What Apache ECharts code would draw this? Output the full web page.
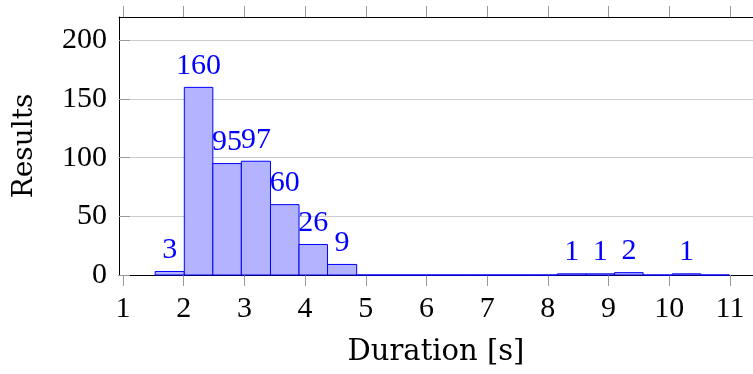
<!DOCTYPE html>
<html>
<head>
<meta charset="utf-8">
<script src="https://cdn.jsdelivr.net/npm/echarts@6/dist/echarts.min.js"></script>
<style>
  html, body { margin: 0; padding: 0; background: #fff; }
  #chart { width: 753px; height: 374px; }
</style>
</head>
<body>
<div id="chart"></div>
<script>
// histogram bins (edges in seconds, counts per bin)
var binEdges = [1.53, 2.01, 2.48, 2.95, 3.43, 3.90, 4.37, 4.85, 5.32, 5.79, 6.26,
                6.74, 7.21, 7.68, 8.16, 8.63, 9.10, 9.57, 10.05, 10.52, 10.99];
var counts = [3, 160, 95, 97, 60, 26, 9, 0, 0, 0, 0, 0, 0, 0, 1, 1, 2, 0, 1, 0];
var xTicks = [1, 2, 3, 4, 5, 6, 7, 8, 9, 10, 11];
var yTicks = [0, 50, 100, 150, 200];

var numFont = '"Liberation Serif", serif';
var nameFont = '"DejaVu Serif", serif';

var histData = [];
for (var i = 0; i < counts.length; i++) {
    histData.push([binEdges[i], binEdges[i + 1], counts[i]]);
}

var chart = echarts.init(document.getElementById('chart'));

var option = {
    animation: false,
    grid: { left: 119, right: 0, top: 17, bottom: 99 },
    xAxis: [{
        type: 'value',
        min: 0.934,
        max: 11.38,
        name: 'Duration [s]',
        nameLocation: 'middle',
        nameGap: 63,
        nameTextStyle: { fontFamily: nameFont, fontSize: 29, color: '#000' },
        axisLine: { onZero: false, lineStyle: { color: '#000', width: 1 } },
        axisTick: { customValues: xTicks, length: 11, lineStyle: { color: '#999' } },
        axisLabel: {
            customValues: xTicks, margin: 19,
            fontFamily: numFont, fontSize: 30, color: '#000'
        },
        splitLine: { show: false }
    }, {
        type: 'value',
        position: 'top',
        min: 0.934,
        max: 11.38,
        axisLine: { onZero: false, lineStyle: { color: '#000', width: 1 } },
        axisTick: { customValues: xTicks, length: 11, lineStyle: { color: '#999' } },
        axisLabel: { show: false },
        splitLine: { show: false }
    }],
    yAxis: {
        type: 'value',
        min: 0,
        max: 220,
        interval: 50,
        name: 'Results',
        nameLocation: 'middle',
        nameGap: 80,
        nameTextStyle: { fontFamily: nameFont, fontSize: 28, color: '#000' },
        axisLine: { show: true, lineStyle: { color: '#000', width: 1 } },
        axisTick: { customValues: yTicks, inside: true, length: 11, lineStyle: { color: '#999' } },
        axisLabel: {
            customValues: yTicks, margin: 12,
            fontFamily: numFont, fontSize: 30, color: '#000'
        },
        splitLine: { show: true, lineStyle: { color: '#cccccc', width: 1 } }
    },
    series: [{
        type: 'custom',
        xAxisIndex: 0,
        encode: { x: [0, 1], y: 2 },
        data: histData,
        renderItem: function (params, api) {
            var x0 = api.value(0);
            var x1 = api.value(1);
            var n = api.value(2);
            var topLeft = api.coord([x0, n]);
            var bottomRight = api.coord([x1, 0]);
            var el = {
                type: 'rect',
                shape: {
                    x: topLeft[0],
                    y: topLeft[1],
                    width: bottomRight[0] - topLeft[0],
                    height: bottomRight[1] - topLeft[1]
                },
                style: { fill: '#b3b3ff', stroke: '#0000ff', lineWidth: 1 }
            };
            if (n > 0) {
                el.textContent = {
                    type: 'text',
                    style: {
                        text: String(n),
                        fill: '#0000ff',
                        font: '30px ' + numFont
                    }
                };
                el.textConfig = { position: 'top', distance: 6 };
            }
            return el;
        }
    }]
};

chart.setOption(option);
</script>
</body>
</html>
